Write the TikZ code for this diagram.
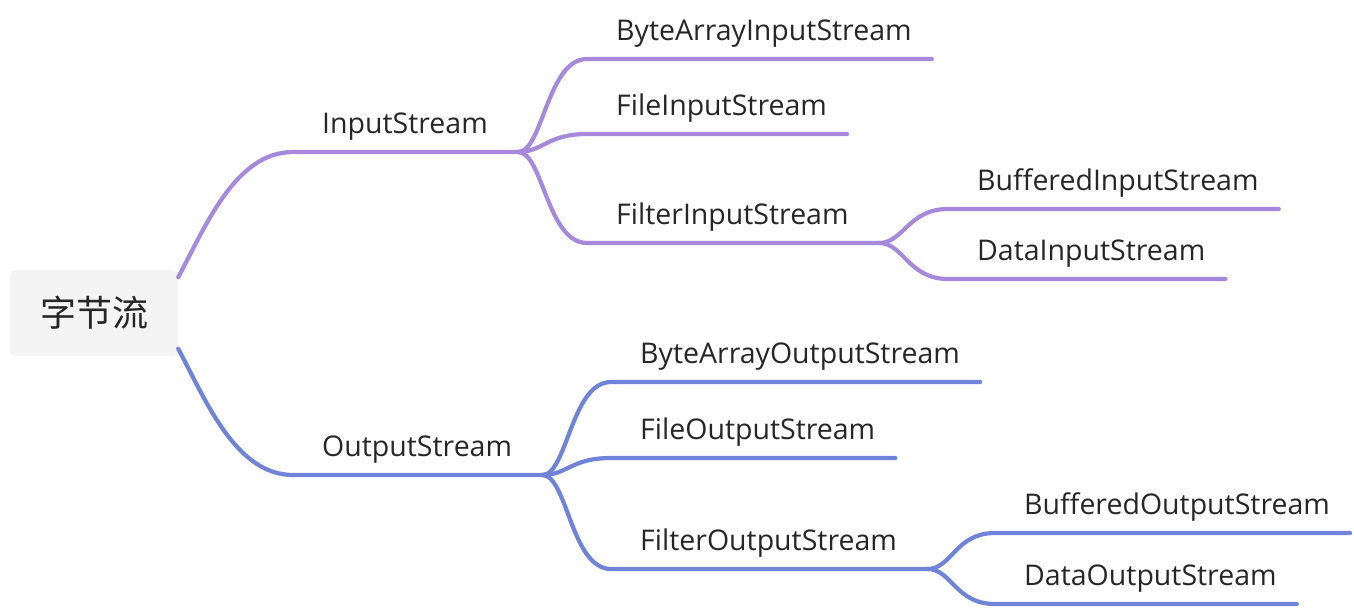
\documentclass[tikz,border=0pt]{standalone}
\usepackage{fontspec}
\setmainfont{Open Sans}
\newfontfamily\cjkfont{Noto Sans CJK SC}
\definecolor{instream}{HTML}{A688DC}
\definecolor{outstream}{HTML}{6F83D8}
\definecolor{rootgray}{HTML}{F4F4F4}
\definecolor{txt}{HTML}{262626}

\begin{document}
\begin{tikzpicture}[x=1pt,y=-1pt,
	root/.style={fill=rootgray,rounded corners=5pt,minimum width=168pt,minimum height=86pt,inner sep=0pt,text=txt,font=\cjkfont\fontsize{36}{40}\selectfont},
	stream/.style={anchor=south west,inner xsep=0pt,inner ysep=18pt,text depth=0pt,text=txt,font=\fontsize{28.5}{32}\selectfont,execute at begin node={\hspace*{29pt}}},
	mid/.style={stream,execute at end node={\hspace*{30pt}}},
	leaf/.style={stream,execute at end node={\hspace*{20pt}}},
	link/.style={line width=4.2pt,line cap=round}]
					\useasboundingbox (0,0) rectangle (1354,608);
					%ROOT
					\node[root] (zjl) at (94,313) {字节流};
					%INPUTSTREAM
					\node[mid] (is) at (293,152) {InputStream};
					\draw[link,instream] (zjl.23) .. controls +(27,-50) and +(-58,0) .. (is.south west) -- (is.south east);
					\node[leaf] (bais) at (587,59) {ByteArrayInputStream};
					\node[leaf] (fis) at (587,134) {FileInputStream};
					\node[mid] (filis) at (587,243) {FilterInputStream};
					\draw[link,instream] (is.south east) .. controls +(25,0) and +(-40,0) .. (bais.south west) -- (bais.south east);
					\draw[link,instream] (is.south east) .. controls +(25,0) and +(-40,0) .. (fis.south west) -- (fis.south east);
					\draw[link,instream] (is.south east) .. controls +(25,0) and +(-40,0) .. (filis.south west) -- (filis.south east);
					\node[leaf] (bis) at (948,209) {BufferedInputStream};
					\node[leaf] (dis) at (948,279) {DataInputStream};
					\draw[link,instream] (filis.south east) .. controls +(25,0) and +(-40,0) .. (bis.south west) -- (bis.south east);
					\draw[link,instream] (filis.south east) .. controls +(25,0) and +(-40,0) .. (dis.south west) -- (dis.south east);
					%OUTPUTSTREAM
					\node[mid] (os) at (293,475) {OutputStream};
					\draw[link,outstream] (zjl.-23) .. controls +(27,50) and +(-58,0) .. (os.south west) -- (os.south east);
					\node[leaf] (baos) at (611,382) {ByteArrayOutputStream};
					\node[leaf] (fos) at (611,458) {FileOutputStream};
					\node[mid] (filos) at (611,569) {FilterOutputStream};
					\draw[link,outstream] (os.south east) .. controls +(25,0) and +(-40,0) .. (baos.south west) -- (baos.south east);
					\draw[link,outstream] (os.south east) .. controls +(25,0) and +(-40,0) .. (fos.south west) -- (fos.south east);
					\draw[link,outstream] (os.south east) .. controls +(25,0) and +(-40,0) .. (filos.south west) -- (filos.south east);
					\node[leaf] (bos) at (995,533) {BufferedOutputStream};
					\node[leaf] (dos) at (995,604) {DataOutputStream};
					\draw[link,outstream] (filos.south east) .. controls +(25,0) and +(-40,0) .. (bos.south west) -- (bos.south east);
					\draw[link,outstream] (filos.south east) .. controls +(25,0) and +(-40,0) .. (dos.south west) -- (dos.south east);
				  \end{tikzpicture}
\end{document}
